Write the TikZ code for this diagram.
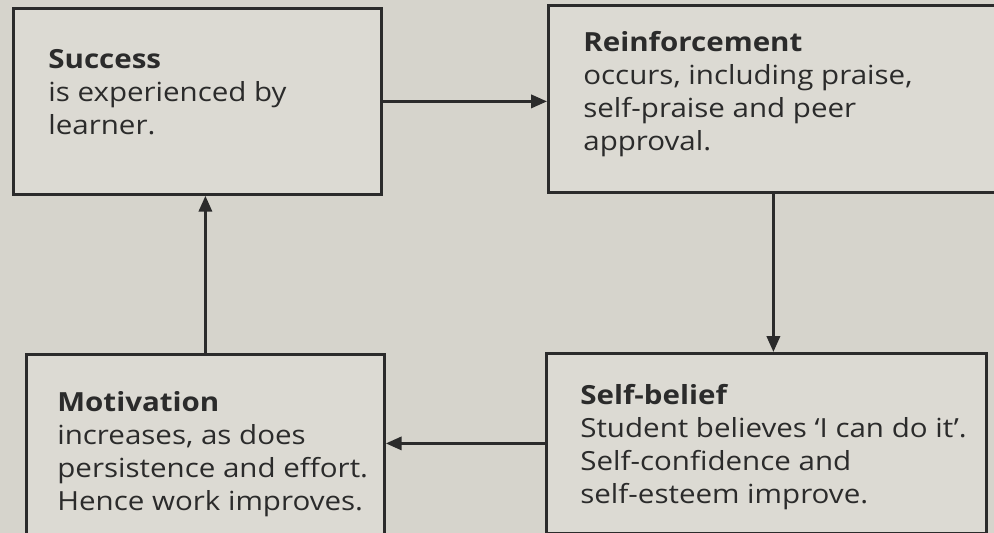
\documentclass[tikz,border=0pt]{standalone}
\usepackage{fontspec}
\setmainfont{Open Sans}[FakeStretch=1.12]
\usepackage{tikz}
\usetikzlibrary{calc, positioning, arrows.meta}

\definecolor{paper}{HTML}{D6D4CC}
\definecolor{boxfill}{HTML}{DCDAD3}
\definecolor{ink}{HTML}{2B2B2B}

\tikzset{
  stage/.style={draw=ink, line width=1.6pt, fill=boxfill, rectangle, inner sep=0pt},
  blurb/.style={anchor=north west, inner sep=0pt, align=left, text=ink,
    font=\fontsize{15}{18.8}\selectfont},
  flow/.style={draw=ink, line width=1.6pt, -{Triangle[length=9pt,width=7.5pt]}}
}

\begin{document}
\begin{tikzpicture}[x=0.02cm, y=-0.02cm]
  \fill [paper] (0,0) rectangle (994,533);
  \clip (0,0) rectangle (994,533);
  % the four stages
  \node [stage, minimum width=368*0.02cm, minimum height=186*0.02cm, anchor=north west] (succ) at (12,7) {};
  \node [stage, minimum width=450*0.02cm, minimum height=187*0.02cm, anchor=north west] (reinf) at (547,4) {};
  \node [stage, minimum width=440*0.02cm, minimum height=180*0.02cm, anchor=north west] (belief) at (545,352) {};
  \node [stage, minimum width=358*0.02cm, minimum height=180*0.02cm, anchor=north west] (motiv) at (25,353) {};
  % texts
  \node [blurb] (succT) at ([shift={(36,42)}]succ.north west)
    {\textbf{Success}\\is experienced by\\learner.};
  \node [blurb] (reinfT) at ([shift={(36,27)}]reinf.north west)
    {\textbf{Reinforcement}\\occurs, including praise,\\self-praise and peer\\approval.};
  \node [blurb] (beliefT) at ([shift={(35,32)}]belief.north west)
    {\textbf{Self-belief}\\Student believes `I can do it'.\\Self-confidence and\\self-esteem improve.};
  \node [blurb] (motivT) at ([shift={(32,38)}]motiv.north west)
    {\textbf{Motivation}\\increases, as does\\persistence and effort.\\Hence work improves.};
  % the cycle
  \draw [flow] (succ.east) -- (succ.east -| reinf.west);
  \draw [flow] (reinf.south) -- (reinf.south |- belief.north);
  \draw [flow] (belief.west) -- (belief.west -| motiv.east);
  \draw [flow] (motiv.north) -- (motiv.north |- succ.south);
\end{tikzpicture}
\end{document}
